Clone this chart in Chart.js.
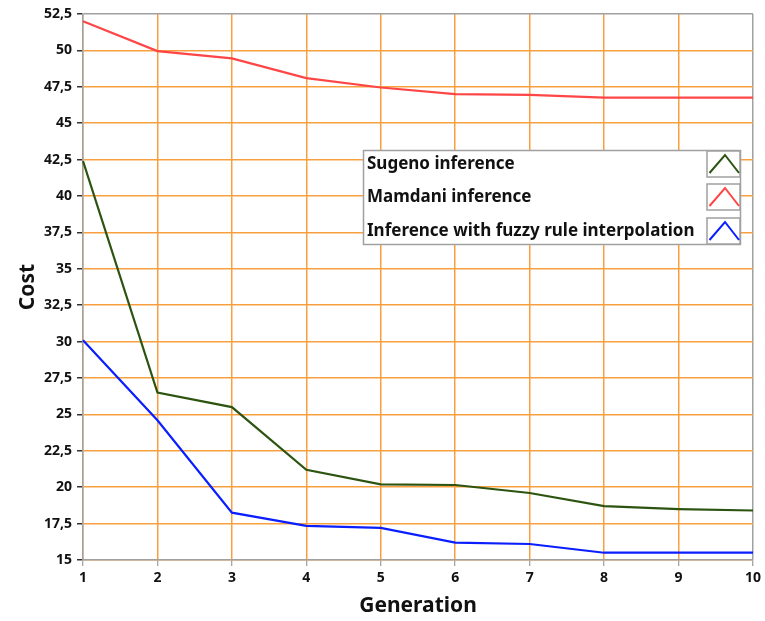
<!DOCTYPE html>
<html>
<head>
<meta charset="utf-8">
<script src="https://cdn.jsdelivr.net/npm/chart.js@4.4.1/dist/chart.umd.min.js"></script>
<style>
  html, body { margin: 0; padding: 0; background: #ffffff; }
  #wrap { width: 765px; height: 621px; position: relative; }
</style>
</head>
<body>
<div id="wrap"><canvas id="c" width="765" height="621"></canvas></div>
<script>
const generations = [1, 2, 3, 4, 5, 6, 7, 8, 9, 10];
const sugeno = [42.4, 26.5, 25.5, 21.2, 20.2, 20.15, 19.6, 18.7, 18.5, 18.4];
const mamdani = [52.0, 49.95, 49.45, 48.1, 47.45, 47.0, 46.95, 46.75, 46.75, 46.75];
const fri = [30.1, 24.6, 18.25, 17.35, 17.2, 16.2, 16.1, 15.5, 15.5, 15.5];
const seriesLabels = ['Sugeno inference', 'Mamdani inference', 'Inference with fuzzy rule interpolation'];
const seriesColors = ['#2c5410', '#ff4646', '#0a1eff'];
const yMin = 15, yMax = 52.5, yStep = 2.5;

const FONT = '"Noto Sans", "Open Sans", sans-serif';
const ORANGE = '#f8a040';
const GRAY = '#a0a0a0';

const legendPlugin = {
  id: 'boxLegend',
  afterDatasetsDraw(chart) {
    const ctx = chart.ctx;
    const bx = 363, by = 150, bw = 377, bh = 94;
    ctx.save();
    ctx.fillStyle = '#ffffff';
    ctx.fillRect(bx, by, bw, bh);
    ctx.strokeStyle = GRAY;
    ctx.lineWidth = 1.5;
    ctx.strokeRect(bx + 0.5, by + 0.5, bw, bh);
    ctx.font = 'bold 17px ' + FONT;
    ctx.textBaseline = 'middle';
    const rowTops = [151, 184, 218];
    chart.data.datasets.forEach((ds, i) => {
      const top = rowTops[i];
      ctx.fillStyle = '#111111';
      ctx.fillText(ds.label, 367, top + 13);
      ctx.fillStyle = '#ffffff';
      ctx.fillRect(707, top, 33, 26);
      ctx.strokeStyle = GRAY;
      ctx.lineWidth = 1.5;
      ctx.strokeRect(707, top, 33, 26);
      ctx.strokeStyle = ds.borderColor;
      ctx.lineWidth = 2;
      ctx.beginPath();
      ctx.moveTo(709.5, top + 22);
      ctx.lineTo(725, top + 4);
      ctx.lineTo(739, top + 22);
      ctx.stroke();
    });
    ctx.restore();
  }
};

new Chart(document.getElementById('c'), {
  type: 'line',
  data: {
    labels: generations,
    datasets: [
      { label: seriesLabels[0], data: sugeno, borderColor: seriesColors[0] },
      { label: seriesLabels[1], data: mamdani, borderColor: seriesColors[1] },
      { label: seriesLabels[2], data: fri, borderColor: seriesColors[2] }
    ].map(d => Object.assign(d, { borderWidth: 2.2, pointRadius: 0, tension: 0, fill: false }))
  },
  options: {
    responsive: false,
    animation: false,
    devicePixelRatio: 1,
    layout: { padding: { left: 0, top: 14, right: 10, bottom: 0 } },
    plugins: {
      legend: { display: false },
      tooltip: { enabled: false }
    },
    scales: {
      x: {
        type: 'category',
        offset: false,
        afterFit(s) { s.height = 61; },
        border: { display: true, color: GRAY, width: 1.5 },
        grid: {
          color: c => (c.index === generations.length - 1 ? GRAY : ORANGE),
          lineWidth: 1.5,
          drawTicks: true,
          tickLength: 6,
          tickColor: '#888888',
          tickWidth: 1
        },
        ticks: {
          color: '#111111',
          font: { family: FONT, size: 14, weight: 'bold' },
          padding: 4,
          maxRotation: 0,
          autoSkip: false
        },
        title: {
          display: true,
          text: 'Generation',
          color: '#111111',
          font: { family: FONT, size: 21, weight: 'bold' },
          padding: { top: 0, bottom: 2 }
        }
      },
      y: {
        min: yMin,
        max: yMax,
        afterFit(s) { s.width = 83; },
        border: { display: true, color: GRAY, width: 1.5 },
        grid: {
          color: c => (c.tick && c.tick.value === yMax ? GRAY : ORANGE),
          lineWidth: 1.5,
          drawTicks: true,
          tickLength: 6,
          tickColor: '#333333',
          tickWidth: 1.5
        },
        ticks: {
          stepSize: yStep,
          color: '#111111',
          font: { family: FONT, size: 14, weight: 'bold' },
          padding: 5,
          callback: v => {
            const s = (Math.round(v * 10) / 10).toString();
            return s.replace('.', ',');
          }
        },
        title: {
          display: true,
          text: 'Cost',
          color: '#111111',
          font: { family: FONT, size: 21, weight: 'bold' },
          padding: { top: 15, bottom: 0 }
        }
      }
    }
  },
  plugins: [legendPlugin]
});
</script>
</body>
</html>
